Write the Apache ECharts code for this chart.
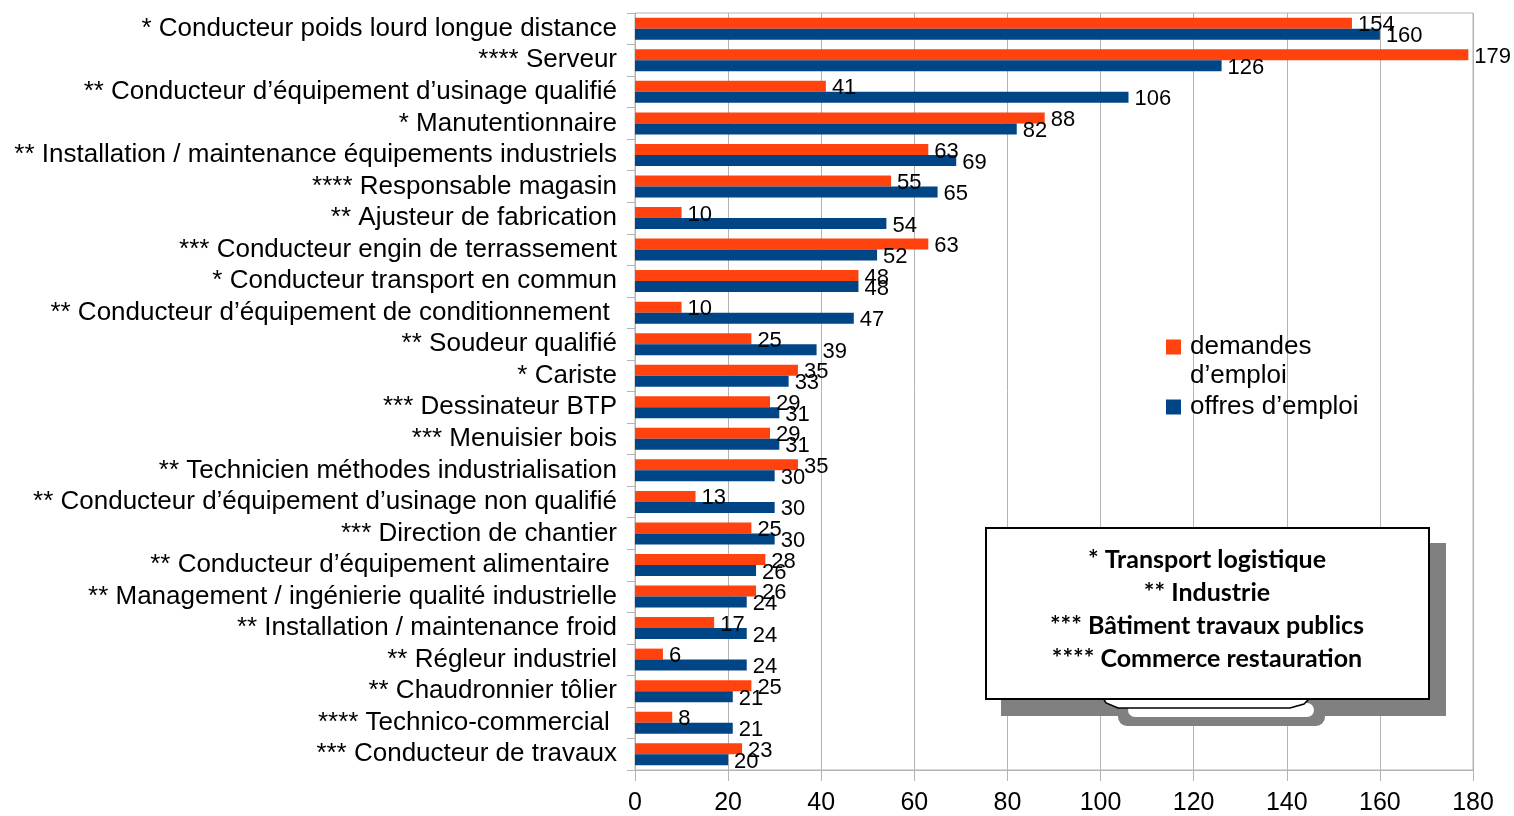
<!DOCTYPE html>
<html>
<head>
<meta charset="utf-8">
<script src="https://cdn.jsdelivr.net/npm/echarts@6/dist/echarts.min.js"></script>
<style>
html, body { margin: 0; padding: 0; background: #fff; }
#main { width: 1514px; height: 816px; }
</style>
</head>
<body>
<div id="main"></div>
<script>
// métiers (du haut vers le bas)
var metiers = [
    '* Conducteur poids lourd longue distance',
    '**** Serveur',
    '** Conducteur d’équipement d’usinage qualifié',
    '* Manutentionnaire',
    '** Installation / maintenance équipements industriels',
    '**** Responsable magasin',
    '** Ajusteur de fabrication',
    '*** Conducteur engin de terrassement',
    '* Conducteur transport en commun',
    '** Conducteur d’équipement de conditionnement ',
    '** Soudeur qualifié',
    '* Cariste',
    '*** Dessinateur BTP',
    '*** Menuisier bois',
    '** Technicien méthodes industrialisation',
    '** Conducteur d’équipement d’usinage non qualifié',
    '*** Direction de chantier',
    '** Conducteur d’équipement alimentaire ',
    '** Management / ingénierie qualité industrielle',
    '** Installation / maintenance froid',
    '** Régleur industriel',
    '** Chaudronnier tôlier',
    '**** Technico-commercial ',
    '*** Conducteur de travaux'
];
var demandes = [154, 179, 41, 88, 63, 55, 10, 63, 48, 10, 25, 35, 29, 29, 35, 13, 25, 28, 26, 17, 6, 25, 8, 23];
var offres = [160, 126, 106, 82, 69, 65, 54, 52, 48, 47, 39, 33, 31, 31, 30, 30, 30, 26, 24, 24, 24, 21, 21, 20];
var secteurs = ['* Transport logistique', '** Industrie', '*** Bâtiment travaux publics', '**** Commerce restauration'];

var myChart = echarts.init(document.getElementById('main'));

var labelStyle = {
    show: true,
    position: 'right',
    distance: 6,
    offset: [0, 2],
    fontSize: 22,
    color: '#000',
    fontFamily: 'Liberation Sans'
};

// encadré des secteurs
var boxTexts = secteurs.map(function (s, i) {
    return {
        type: 'text',
        x: 1207,
        y: 560 + i * 33,
        style: {
            text: s,
            fill: '#000',
            font: 'bold 25px Lato',
            textAlign: 'center',
            textVerticalAlign: 'middle'
        },
        z: 120
    };
});

option = {
    textStyle: { fontFamily: 'Liberation Sans' },
    animation: false,
    color: ['#ff420e', '#004586'],
    grid: {
        left: 635,
        right: 41,
        top: 13,
        bottom: 45,
        show: true,
        borderColor: '#b3b3b3',
        borderWidth: 1
    },
    legend: {
        left: 1166,
        top: 332,
        padding: 0,
        orient: 'vertical',
        itemWidth: 15,
        itemHeight: 15,
        itemGap: 30,
        icon: 'rect',
        textStyle: { fontSize: 26, lineHeight: 30, color: '#000', padding: [0, 0, 0, 4] },
        formatter: function (name) {
            return name === 'demandes d’emploi' ? 'demandes' : name;
        },
        data: ['demandes d’emploi', 'offres d’emploi']
    },
    xAxis: {
        type: 'value',
        min: 0,
        max: 180,
        interval: 20,
        axisLine: { show: true, lineStyle: { color: '#b3b3b3' } },
        axisTick: { show: true, length: 11, lineStyle: { color: '#b3b3b3' } },
        axisLabel: { fontSize: 25, color: '#000', margin: 21 },
        splitLine: { show: true, lineStyle: { color: '#b3b3b3' } }
    },
    yAxis: {
        type: 'category',
        inverse: true,
        data: metiers,
        axisLine: { show: true, lineStyle: { color: '#b3b3b3' } },
        axisTick: { show: true, length: 8, interval: 0, lineStyle: { color: '#b3b3b3' } },
        axisLabel: { fontSize: 26, color: '#000', margin: 18, interval: 0, padding: [6, 0, 0, 0] }
    },
    graphic: [
        { type: 'rect', shape: { x: 1001, y: 543, width: 445, height: 173 }, style: { fill: '#808080' }, z: 100 },
        { type: 'rect', shape: { x: 1118, y: 705, width: 207, height: 21, r: 9 }, style: { fill: '#808080' }, z: 101 },
        { type: 'rect', shape: { x: 1128, y: 703, width: 186, height: 14, r: 7 }, style: { fill: '#fff' }, z: 102 },
        { type: 'polygon', shape: { points: [[1103, 698], [1310, 698], [1304, 704], [1290, 708], [1118, 708], [1106, 703]] }, style: { fill: '#fff', stroke: '#000', lineWidth: 1.5 }, z: 103 },
        { type: 'rect', shape: { x: 986, y: 528, width: 443, height: 171 }, style: { fill: '#fff', stroke: '#000', lineWidth: 2 }, z: 110 },
        { type: 'text', x: 1190, y: 376, style: { text: 'd’emploi', fill: '#000', font: '26px "Liberation Sans"', textVerticalAlign: 'middle' }, z: 100 }
    ].concat(boxTexts),
    series: [
        {
            name: 'demandes d’emploi',
            type: 'bar',
            barWidth: 11,
            barGap: 0,
            label: labelStyle,
            data: demandes
        },
        {
            name: 'offres d’emploi',
            type: 'bar',
            barWidth: 11,
            barGap: 0,
            label: labelStyle,
            data: offres
        }
    ]
};

myChart.setOption(option);
</script>
</body>
</html>
